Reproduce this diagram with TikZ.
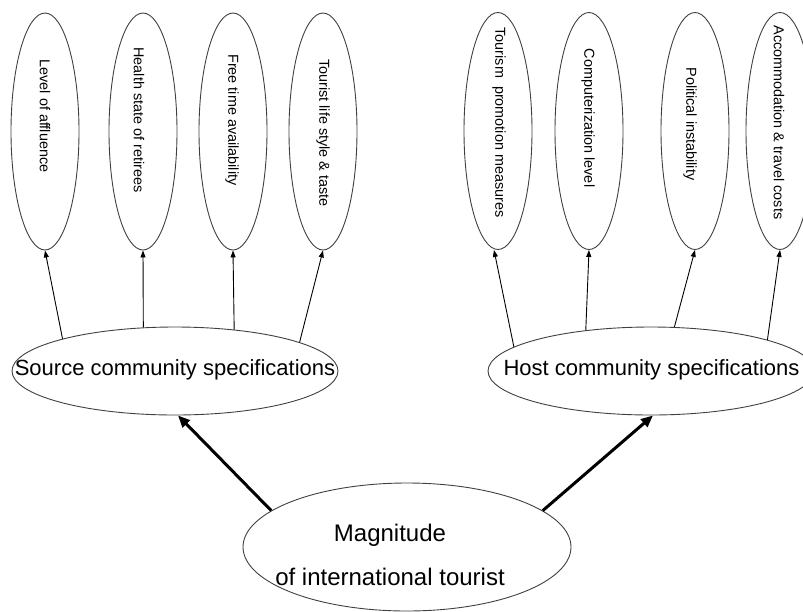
\documentclass[tikz,border=0pt]{standalone}
\usepackage{fontspec}
\setmainfont{Liberation Sans}
\usetikzlibrary{shapes.geometric,arrows.meta}
\begin{document}
\begin{tikzpicture}[x=1pt,y=-1pt,
  tallell/.style={ellipse,draw=black!75,line width=0.9pt,minimum width=68pt,minimum height=237pt,inner sep=0pt},
  tlabel/.style={rotate=-90,font=\fontsize{14.4}{16}\selectfont,inner sep=0pt},
  wideell/.style={ellipse,draw=black!75,line width=0.9pt,minimum width=326pt,minimum height=88pt,inner sep=0pt},
  wlabel/.style={font=\fontsize{22}{26}\selectfont,inner sep=0pt},
  subarrow/.style={-{Triangle[length=7pt,width=5pt]},line width=0.9pt},
  mainarrow/.style={-{Triangle[length=12pt,width=10pt]},line width=3pt}]
\useasboundingbox (0,0) rectangle (803,611);
% top ellipses
\node[tallell] (t1) at (45,131.5) {};
\node[tallell] (t2) at (143,131.5) {};
\node[tallell] (t3) at (233,131.5) {};
\node[tallell] (t4) at (323,131.5) {};
\node[tallell] (t5) at (498,131) {};
\node[tallell] (t6) at (589,131) {};
\node[tallell] (t7) at (695,131) {};
\node[tallell] (t8) at (780,131) {};
\node[tlabel] (l1) at (45,116) {Level of affluence};
\node[tlabel] (l2) at (139,120) {Health state of retirees};
\node[tlabel] (l3) at (232,120) {Free time availability};
\node[tlabel] (l4) at (323,133) {Tourist life style \& taste};
\node[tlabel] (l5) at (499,122.5) {Tourism\ \ promotion measures};
\node[tlabel] (l6) at (588,118) {Computerization level};
\node[tlabel] (l7) at (690,124) {Political instability};
\node[tlabel] (l8) at (779,122.5) {Accommodation \& travel costs};
% middle ellipses
\node[wideell] (src) at (175,371) {};
\node[wideell] (host) at (651,371) {};
\node[wlabel] (srclab) at (175,370) {Source community specifications};
\node[wlabel] (hostlab) at (651.5,370) {Host community specifications};
% bottom ellipse
\node[ellipse,draw=black!75,line width=0.9pt,minimum width=328pt,minimum height=128pt,inner sep=0pt] (mag) at (407,547) {};
\node[font=\fontsize{24}{44}\selectfont,align=center,inner sep=0pt] (maglab) at (390,555) {Magnitude\\of international tourist};
% sub arrows
\draw[subarrow] (src.164.2) -- (t1.south);
\draw[subarrow] (src.126.6) -- (t2.south);
\draw[subarrow] (src.35.3) -- (t3.south);
\draw[subarrow] (src.13.2) -- (t4.south);
\draw[subarrow] (host.170.1) -- ([xshift=-4pt]t5.south);
\draw[subarrow] (host.148.9) -- (t6.south);
\draw[subarrow] (host.62.1) -- (t7.south);
\draw[subarrow] (host.15.5) -- (t8.south);
% main arrows
\draw[mainarrow] (mag.165.1) -- ([xshift=3pt]src.south);
\draw[mainarrow] (mag.15.3) -- ([xshift=2pt]host.south);
\end{tikzpicture}
\end{document}
